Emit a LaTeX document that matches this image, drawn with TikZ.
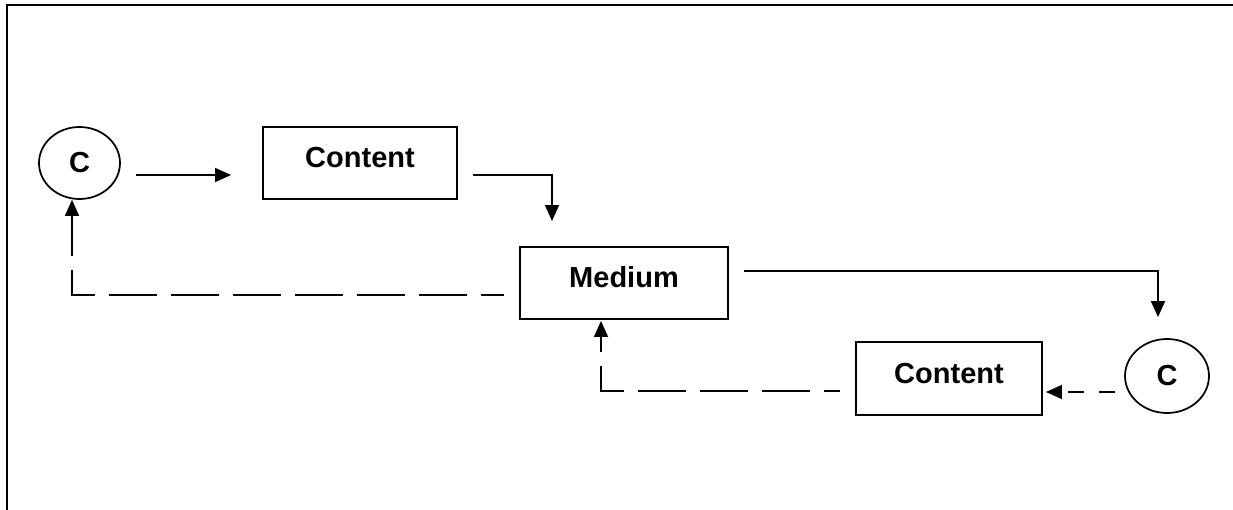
\documentclass[tikz,border=0pt]{standalone}
\usepackage{fontspec}
\setmainfont{Liberation Sans}
\usetikzlibrary{arrows.meta,calc,shapes.geometric}

\tikzset{
  lbl/.style={font=\fontsize{21.75}{26}\selectfont\bfseries},
  box/.style={draw, line width=1.45pt, rectangle, lbl, inner sep=0pt,
              text height=15.75pt, text depth=9pt},
  oval/.style={draw, line width=1.3pt, ellipse, lbl, inner sep=0pt},
  arr/.style={line width=1.3pt, -{Triangle[length=12pt,width=10.5pt]}},
  longdash/.style={dash pattern=on 36pt off 10.5pt},
  shortdash/.style={dash pattern=on 12pt off 11pt},
  frame/.style={line width=2.2pt}
}

\begin{document}
\begin{tikzpicture}[x=0.75pt,y=-0.75pt]
  \useasboundingbox (0,0) rectangle (1233,510);

  % outer frame (top and left edges)
  \coordinate (ftl) at (7,5);
  \coordinate (ftr) at (1240,5);
  \coordinate (fbl) at (7,520);
  \draw[frame] (ftr) -- (ftl) -- (fbl);

  % nodes
  \node[oval, minimum width=60.75pt, minimum height=54pt] (c1) at (79.5,163) {C};
  \node[box, minimum width=145.5pt, minimum height=54pt] (content1) at (360,163) {Content};
  \node[box, minimum width=156pt, minimum height=54pt] (medium) at (624,283) {Medium};
  \node[box, minimum width=139.5pt, minimum height=54.75pt] (content2) at (949,378.5) {Content};
  \node[oval, minimum width=63pt, minimum height=55.5pt] (c2) at (1167,376) {C};

  % solid connectors
  \draw[arr] ($(c1.east)+(15,12)$) -- ($(content1.west)+(-31,12)$);
  \draw[arr] ($(content1.east)+(15,12)$) -| ($(medium.north)+(-72,-25)$);
  \draw[arr] ($(medium.east)+(15,-12)$) -| ($(c2.north)+(-9,-21)$);

  % dashed connectors
  \draw[arr, shortdash] ($(c2.center)+(-52,16)$) -- ($(content2.east)+(3,13.5)$);
  \draw[arr, longdash, dash phase=24pt] ($(content2.west)+(-15,12.5)$) -| ($(medium.south)+(-23,1)$);
  \draw[arr, longdash, dash phase=18.75pt] ($(medium.west)+(-15,12)$) -| ($(c1.south)+(-7.5,0)$);
\end{tikzpicture}
\end{document}
